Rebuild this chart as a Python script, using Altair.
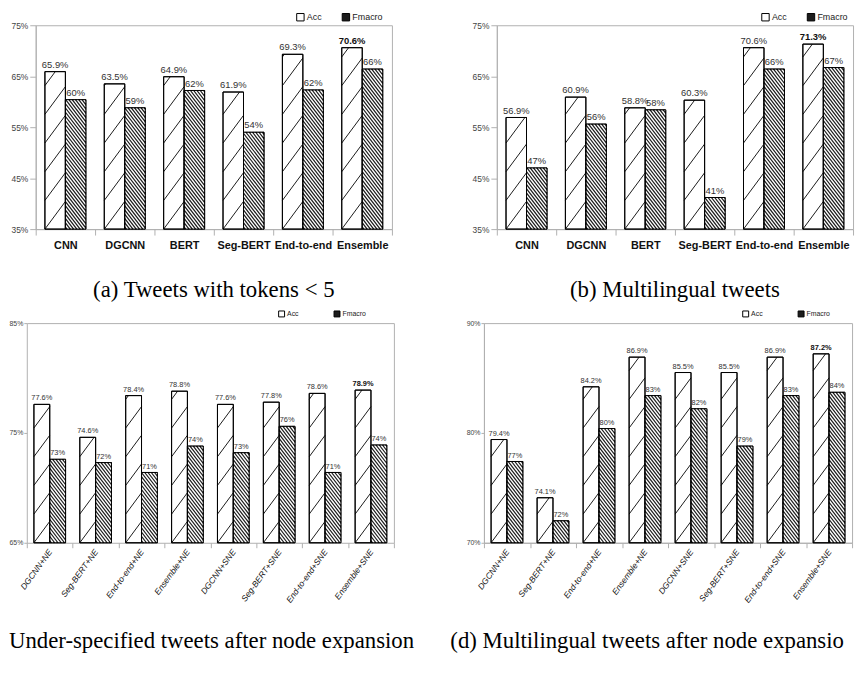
import json
import numpy as np
import pandas as pd
import altair as alt

# ---------------- data ----------------
models_ab = ["CNN", "DGCNN", "BERT", "Seg-BERT", "End-to-end", "Ensemble"]
acc_a = [65.9, 63.5, 64.9, 61.9, 69.3, 70.6]
fmacro_a = [60.4, 58.8, 62.2, 54.0, 62.3, 66.4]
acc_b = [56.9, 60.9, 58.8, 60.3, 70.6, 71.3]
fmacro_b = [47.0, 55.6, 58.4, 41.2, 66.4, 66.7]
models_cd = ["DGCNN+NE", "Seg-BERT+NE", "End-to-end+NE", "Ensemble+NE",
             "DGCNN+SNE", "Seg-BERT+SNE", "End-to-end+SNE", "Ensemble+SNE"]
acc_c = [77.6, 74.6, 78.4, 78.8, 77.6, 77.8, 78.6, 78.9]
fmacro_c = [72.6, 72.3, 71.4, 73.8, 73.2, 75.6, 71.4, 73.9]
acc_d = [79.4, 74.1, 84.2, 86.9, 85.5, 85.5, 86.9, 87.2]
fmacro_d = [77.4, 72.0, 80.4, 83.4, 82.2, 78.8, 83.4, 83.7]
yticks_ab = [35, 45, 55, 65, 75]
yticks_c = [65, 75, 85]
yticks_d = [70, 80, 90]
series = ["Acc", "Fmacro"]
captions = ["(a) Tweets with tokens < 5",
            "(b) Multilingual tweets",
            "Under-specified tweets after node expansion",
            "(d) Multilingual tweets after node expansio"]

# ---------------- style ----------------
SANS = "Liberation Sans, Arial, sans-serif"
SERIF = "Liberation Serif, Times New Roman, serif"
GRAY = "#b0b0b0"
HALF = 0.345


def build_table(cats, acc, fm, ymin):
    best = int(np.argmax(acc))
    rows = []
    for i, c in enumerate(cats):
        rows.append({"cat": c, "series": "Acc", "val": acc[i],
                     "xl": i + 0.5 - HALF, "xr": i + 0.5, "base": ymin, "best": i == best})
        rows.append({"cat": c, "series": "Fmacro", "val": fm[i],
                     "xl": i + 0.5, "xr": i + 0.5 + HALF, "base": ymin, "best": False})
    df = pd.DataFrame(rows)
    df["xm"] = (df["xl"] + df["xr"]) / 2
    return df


def hatch(df, name, ymin, pxx, pxy, slope, step, rising):
    out = []
    for r in df[df["series"] == name].itertuples():
        W = (r.xr - r.xl) * pxx
        H = (r.val - ymin) * pxy
        lo, hi = ((-slope * W, H) if rising else (0.0, H + slope * W))
        c = np.ceil(lo / step) * step
        while c <= hi:
            if rising:
                X1 = max(0.0, -c / slope)
                X2 = min(W, (H - c) / slope)
                Y1, Y2 = c + slope * X1, c + slope * X2
            else:
                X1 = max(0.0, (c - H) / slope)
                X2 = min(W, c / slope)
                Y1, Y2 = c - slope * X1, c - slope * X2
            if X2 - X1 > 0.2:
                out.append({"x1": r.xl + X1 / pxx, "x2": r.xl + X2 / pxx,
                            "y1": ymin + Y1 / pxy, "y2": ymin + Y2 / pxy})
            c += step
    return pd.DataFrame(out)


def panel(cats, acc, fm, ydom, yticks, caption, s):
    n = len(cats)
    pw, ph = s["w"], s["h"]
    x0 = s.get("x0", 0)            # left end of the x range (can sit left of the view origin)
    pxx = (pw - x0) / n
    pxy = ph / (ydom[1] - ydom[0])
    df = build_table(cats, acc, fm, ydom[0])
    hA = hatch(df, "Acc", ydom[0], pxx, pxy, 1.35, 29.0, True)
    hF = hatch(df, "Fmacro", ydom[0], pxx, pxy, 1.3, 4.3, False)

    xs = alt.Scale(domain=[0, n], nice=False, zero=False, range=[x0, pw])
    ys = alt.Scale(domain=list(ydom), nice=False, zero=False)
    xaxis = alt.Axis(
        values=[k / 2 for k in range(2 * n + 1)],
        labelExpr="datum.value % 1 == 0 ? '' : " + json.dumps(cats) + "[floor(datum.value)]",
        tickOpacity={"condition": {"test": "datum.value % 1 == 0", "value": 1}, "value": 0},
        title=None, grid=False, domainColor=GRAY, tickColor=GRAY, tickSize=s["xtick"],
        labelFont=SANS, labelFontSize=s["xfs"], labelFontWeight=s["xfw"],
        labelFontStyle=s["xstyle"], labelColor="#111", labelAngle=s["xangle"],
        labelAlign=s["xalign"], labelBaseline=s["xbase"], labelPadding=s["xpad"],
        labelOverlap=False, labelFlush=False, labelBound=False)
    yaxis = alt.Axis(
        values=yticks, labelExpr="datum.value + '%'", title=None, grid=False,
        domainColor=GRAY, tickColor=GRAY, tickSize=s["ytick"], labelFont=SANS,
        labelFontSize=s["yfs"], labelColor="#444", labelPadding=s["ypad"],
        minExtent=s["yext"], offset=-x0)
    legend = alt.Legend(
        title=None, orient="none", legendX=s["lx"], legendY=s["ly"], direction="horizontal",
        symbolType="square", symbolSize=s["lsym"], symbolStrokeColor="black",
        symbolStrokeWidth=1, labelFont=SANS, labelFontSize=s["lfs"], labelColor="#222",
        columnPadding=s["lcol"], labelOffset=2, padding=0)
    framed = x0 != 0
    top_axis = alt.Axis(orient="top", labels=False, ticks=False, title=None, grid=False,
                        domainColor=GRAY)
    right_axis = alt.Axis(orient="right", labels=False, ticks=False, title=None, grid=False,
                          domainColor=GRAY)

    def X(f, ax=None):
        return alt.X(f, scale=xs, axis=ax)

    def Y(f, ax=None):
        return alt.Y(f, scale=ys, axis=ax)

    base = alt.Chart(df)
    bars = base.mark_bar(stroke="black", strokeWidth=1).encode(
        x=X("xl:Q", xaxis), x2="xr", y=Y("val:Q", yaxis), y2="base",
        fill=alt.Fill("series:N", scale=alt.Scale(domain=series, range=["#ffffff", "#1c1c1c"]),
                      legend=legend))
    ruleA = alt.Chart(hA).mark_rule(color="black", strokeWidth=0.9).encode(
        x=X("x1:Q"), x2="x2", y=Y("y1:Q"), y2="y2")
    ruleF = alt.Chart(hF).mark_rule(color="white", strokeWidth=1.4).encode(
        x=X("x1:Q"), x2="x2", y=Y("y1:Q"), y2="y2")
    outline = base.mark_bar(fillOpacity=0, stroke="black", strokeWidth=1).encode(
        x=X("xl:Q", top_axis if framed else None), x2="xr",
        y=Y("val:Q", right_axis if framed else None), y2="base")
    lab = base.transform_calculate(
        label="datum.series == 'Acc' ? format(datum.val, '.1f') + '%' : format(datum.val, '.0f') + '%'")
    enc = dict(x=X("xm:Q"), y=Y("val:Q"), text="label:N")
    txt = lab.transform_filter("!datum.best").mark_text(
        font=SANS, fontSize=s["dfs"], color="#333", baseline="alphabetic",
        dy=-s["ddy"]).encode(**enc)
    txtb = lab.transform_filter("datum.best").mark_text(
        font=SANS, fontSize=s["dfs"], color="#111", fontWeight="bold",
        baseline="alphabetic", dy=-s["ddy"]).encode(**enc)

    title = alt.TitleParams(caption, orient="bottom", anchor=s["tanchor"], frame=s["tframe"],
                            font=SERIF, fontSize=23, fontWeight="normal",
                            color="black", offset=s["toff"])
    ch = alt.layer(bars, ruleA, ruleF, outline, txt, txtb).resolve_axis(
        x="independent", y="independent")
    props = dict(width=pw, height=ph, title=title)
    if framed:
        props["view"] = alt.ViewBackground(stroke="transparent")
    return ch.properties(**props)


sa = dict(w=360, h=206, xtick=6, xfs=11, xfw="bold", xstyle="normal", xangle=0,
          xalign="center", xbase="top", xpad=5, ytick=6, yfs=8.5, ypad=2, yext=27,
          lx=263, ly=-13, lsym=56, lfs=9, lcol=17, dfs=9.5, ddy=4,
          tanchor="middle", tframe="group", toff=29)
sb = dict(sa, yext=26, lx=267)
sc = dict(w=362, x0=-9, h=222, xtick=5, xfs=8.5, xfw="normal", xstyle="italic", xangle=306,
          xalign="right", xbase="middle", xpad=2, ytick=3, yfs=7, ypad=1, yext=18,
          lx=245, ly=-13, lsym=36, lfs=7, lcol=33, dfs=7.5, ddy=4,
          tanchor="start", tframe="bounds", toff=27)
sd = dict(sc, w=372, x0=0, lx=261, yext=34)

pa = panel(models_ab, acc_a, fmacro_a, (35, 75), yticks_ab, captions[0], sa)
pb = panel(models_ab, acc_b, fmacro_b, (35, 75), yticks_ab, captions[1], sb)
pc = panel(models_cd, acc_c, fmacro_c, (65, 85), yticks_c, captions[2], sc)
pdd = panel(models_cd, acc_d, fmacro_d, (70, 90), yticks_d, captions[3], sd)


def indep(ch):
    return ch.resolve_scale(x="independent", y="independent", fill="independent").resolve_legend(
        fill="independent")


top = indep(alt.hconcat(pa, pb, spacing=78))
bottom = indep(alt.hconcat(pc, pdd, spacing=34))
chart = indep(alt.vconcat(top, bottom, spacing=6)).configure_view(
    stroke=GRAY, strokeWidth=1).properties(padding=0)

chart.save("out.html", embed_options={"renderer": "svg", "actions": False})
